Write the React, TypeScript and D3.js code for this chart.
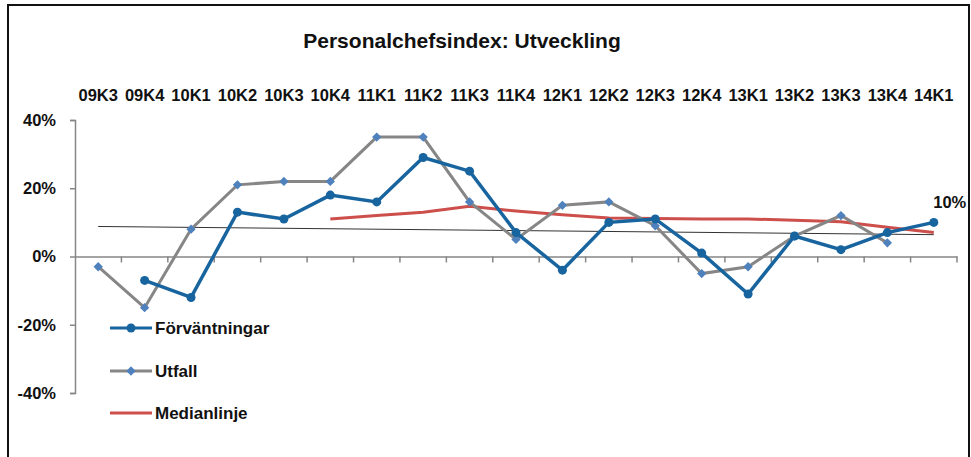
import React, { useRef, useEffect } from 'react';
import * as d3 from 'd3';

const quarters = ['09K3', '09K4', '10K1', '10K2', '10K3', '10K4', '11K1', '11K2', '11K3', '11K4',
  '12K1', '12K2', '12K3', '12K4', '13K1', '13K2', '13K3', '13K4', '14K1'];

// Förväntningar (null = no value)
const expectations = [null, -7, -12, 13, 11, 18, 16, 29, 25, 7, -4, 10, 11, 1, -11, 6, 2, 7, 10];
// Utfall
const outcome = [-3, -15, 8, 21, 22, 22, 35, 35, 16, 5, 15, 16, 9, -5, -3, 6, 12, 4, null];
// Medianlinje
const median = [null, null, null, null, null, 11, 12, 13, 14.7, 13.3, 12.2, 11.3, 11.1, 11, 11, 10.6, 10.2, 8.6, 7];
// thin trend line, first and last quarter
const trendEnds = [8.8, 6.4];

const yTicks = [40, 20, 0, -20, -40];

const BLUE = '#17649f';
const GREY = '#868686';
const DIAMOND = '#4f81bd';
const RED = '#cd4f4c';

const App = () => {
  const svgRef = useRef(null);

  useEffect(() => {
    const width = 971;
    const height = 457;
    const font = '"Liberation Sans", Arial, sans-serif';

    const svg = d3.select(svgRef.current)
      .attr('width', width)
      .attr('height', height);

    svg.selectAll('*').remove();

    // frame
    svg.append('rect')
      .attr('x', 8).attr('y', 5)
      .attr('width', 961).attr('height', 470)
      .attr('fill', 'white')
      .attr('stroke', '#111')
      .attr('stroke-width', 2);

    const x = d3.scaleBand()
      .domain(quarters)
      .range([75, 957])
      .padding(0);

    const y = d3.scaleLinear()
      .domain([-40, 40])
      .range([393, 120]);

    const cx = d => x(d) + x.bandwidth() / 2;

    // title
    svg.append('text')
      .attr('x', 462).attr('y', 48)
      .attr('text-anchor', 'middle')
      .style('font-family', font)
      .style('font-weight', 'bold')
      .style('font-size', '21px')
      .attr('fill', '#111')
      .text('Personalchefsindex: Utveckling');

    // category labels on top
    svg.append('g')
      .selectAll('text')
      .data(quarters)
      .enter()
      .append('text')
      .attr('x', d => cx(d))
      .attr('y', 101)
      .attr('text-anchor', 'middle')
      .style('font-family', font)
      .style('font-weight', 'bold')
      .style('font-size', '16.5px')
      .attr('fill', '#111')
      .text(d => d);

    // Y axis
    const yAxis = svg.append('g')
      .attr('transform', 'translate(75,0)')
      .call(d3.axisLeft(y).tickValues(yTicks).tickSize(5).tickFormat(d => `${d}%`));
    yAxis.select('.domain').attr('stroke', GREY).attr('stroke-width', 1.5);
    yAxis.selectAll('.tick line').attr('stroke', GREY).attr('stroke-width', 1.5);
    yAxis.selectAll('text')
      .attr('x', -19)
      .style('font-family', font)
      .style('font-weight', 'bold')
      .style('font-size', '16.5px')
      .attr('fill', '#111');

    // X axis at 0%
    const xAxis = svg.append('g')
      .attr('transform', `translate(0,${y(0)})`)
      .call(d3.axisBottom(x).tickSize(0).tickFormat(() => ''));
    xAxis.select('.domain').attr('stroke', GREY).attr('stroke-width', 1.5);
    xAxis.selectAll('.tick').remove();
    xAxis.selectAll('.bound')
      .data(quarters)
      .enter()
      .append('line')
      .attr('x1', d => x(d) + x.bandwidth())
      .attr('x2', d => x(d) + x.bandwidth())
      .attr('y1', 0).attr('y2', 6)
      .attr('stroke', GREY)
      .attr('stroke-width', 1.5);

    // trend line
    svg.append('line')
      .attr('x1', cx(quarters[0]))
      .attr('x2', cx(quarters[quarters.length - 1]))
      .attr('y1', y(trendEnds[0]))
      .attr('y2', y(trendEnds[1]))
      .attr('stroke', '#333')
      .attr('stroke-width', 1);

    const line = d3.line()
      .defined(d => d.v !== null)
      .x(d => cx(d.q))
      .y(d => y(d.v));

    const toPts = arr => quarters.map((q, i) => ({ q, v: arr[i] }));

    // Medianlinje
    svg.append('path')
      .datum(toPts(median))
      .attr('d', line)
      .attr('fill', 'none')
      .attr('stroke', RED)
      .attr('stroke-width', 3);

    // Utfall
    const outPts = toPts(outcome);
    svg.append('path')
      .datum(outPts)
      .attr('d', line)
      .attr('fill', 'none')
      .attr('stroke', GREY)
      .attr('stroke-width', 3);

    // Förväntningar
    const expPts = toPts(expectations);
    svg.append('path')
      .datum(expPts)
      .attr('d', line)
      .attr('fill', 'none')
      .attr('stroke', BLUE)
      .attr('stroke-width', 3.5);

    const diamond = d3.symbol().type(d3.symbolDiamond2).size(55);

    svg.selectAll('.dia')
      .data(outPts.filter(d => d.v !== null))
      .enter()
      .append('path')
      .attr('d', diamond)
      .attr('transform', d => `translate(${cx(d.q)},${y(d.v)})`)
      .attr('fill', DIAMOND);

    svg.selectAll('.dot')
      .data(expPts.filter(d => d.v !== null))
      .enter()
      .append('circle')
      .attr('cx', d => cx(d.q))
      .attr('cy', d => y(d.v))
      .attr('r', 4.5)
      .attr('fill', BLUE);

    // last value label
    const last = expPts[expPts.length - 1];
    svg.append('text')
      .attr('x', cx(last.q) + 16)
      .attr('y', y(last.v) - 14)
      .attr('text-anchor', 'middle')
      .style('font-family', font)
      .style('font-weight', 'bold')
      .style('font-size', '16.5px')
      .attr('fill', '#111')
      .text(`${last.v}%`);

    // legend
    const legend = [
      { name: 'Förväntningar', color: BLUE, mark: 'circle' },
      { name: 'Utfall', color: GREY, mark: 'diamond' },
      { name: 'Medianlinje', color: RED, mark: null },
    ];
    const legendY = [328, 371, 413];

    legend.forEach((item, i) => {
      const g = svg.append('g').attr('transform', `translate(110,${legendY[i]})`);
      g.append('line')
        .attr('x1', 0).attr('x2', 42)
        .attr('y1', 0).attr('y2', 0)
        .attr('stroke', item.color)
        .attr('stroke-width', 3);
      if (item.mark === 'circle') {
        g.append('circle').attr('cx', 21).attr('cy', 0).attr('r', 4.5).attr('fill', BLUE);
      } else if (item.mark === 'diamond') {
        g.append('path').attr('d', diamond).attr('transform', 'translate(21,0)').attr('fill', DIAMOND);
      }
      g.append('text')
        .attr('x', 45)
        .attr('y', 6)
        .style('font-family', font)
        .style('font-weight', 'bold')
        .style('font-size', '17px')
        .attr('fill', '#111')
        .text(item.name);
    });
  }, []);

  return <svg ref={svgRef} style={{ position: 'absolute', left: 0, top: 0 }}></svg>;
};

export default App;
